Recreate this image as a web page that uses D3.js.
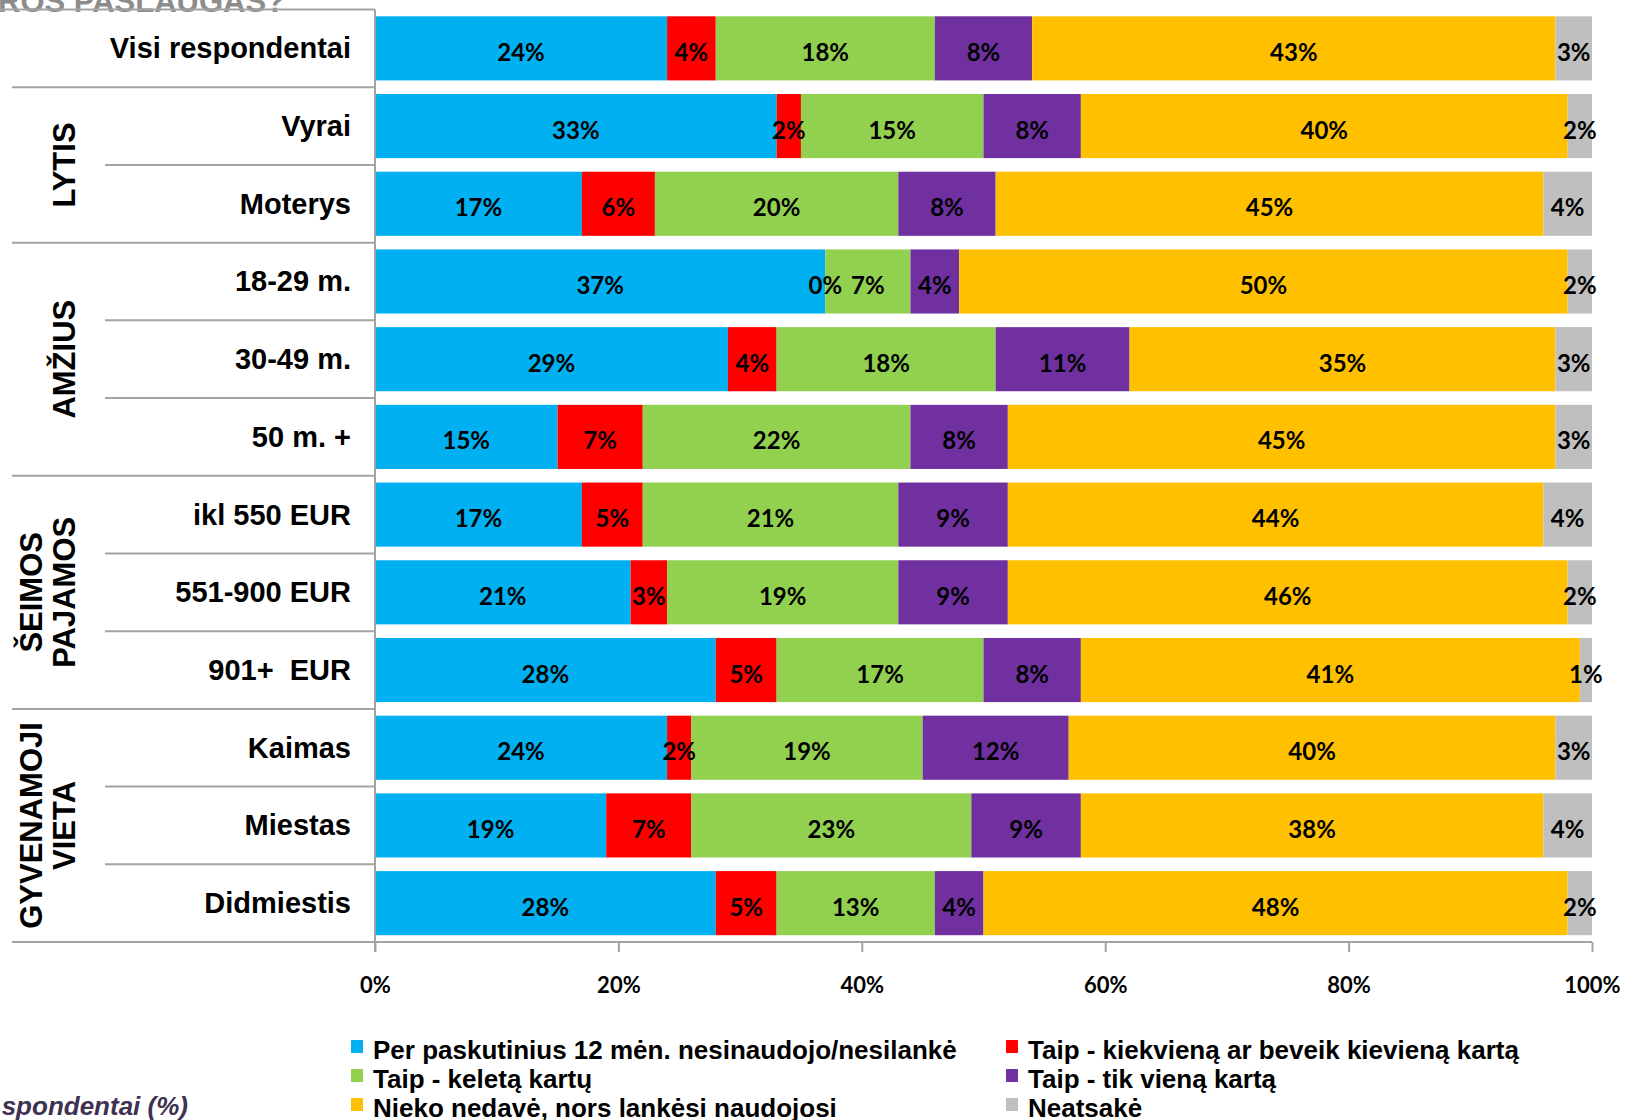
<!DOCTYPE html>
<html>
<head>
<meta charset="utf-8">
<script src="https://cdnjs.cloudflare.com/ajax/libs/d3/7.8.5/d3.min.js"></script>
<style>
  body { margin: 0; background: #ffffff; }
  svg text { font-family: "Liberation Sans", Arial, sans-serif; font-weight: bold; white-space: pre; }
</style>
</head>
<body>
<script>
//Data
const categories = ["Visi respondentai", "Vyrai", "Moterys", "18-29 m.", "30-49 m.", "50 m. +",
  "ikl 550 EUR", "551-900 EUR", "901+  EUR", "Kaimas", "Miestas", "Didmiestis"];

const seriesNames = [
  "Per paskutinius 12 mėn. nesinaudojo/nesilankė",
  "Taip - kiekvieną ar beveik kievieną kartą",
  "Taip - keletą kartų",
  "Taip - tik vieną kartą",
  "Nieko nedavė, nors lankėsi naudojosi",
  "Neatsakė"
];

const nesinaudojo = [24, 33, 17, 37, 29, 15, 17, 21, 28, 24, 19, 28];
const kiekvienaKarta = [4, 2, 6, 0, 4, 7, 5, 3, 5, 2, 7, 5];
const keletaKartu = [18, 15, 20, 7, 18, 22, 21, 19, 17, 19, 23, 13];
const vienaKarta = [8, 8, 8, 4, 11, 8, 9, 9, 8, 12, 9, 4];
const niekoNedave = [43, 40, 45, 50, 35, 45, 44, 46, 41, 40, 38, 48];
const neatsake = [3, 2, 4, 2, 3, 3, 4, 2, 1, 3, 4, 2];

const groupLabels = [["LYTIS"], ["AMŽIUS"], ["ŠEIMOS", "PAJAMOS"], ["GYVENAMOJI", "VIETA"]];
const groupMembers = [
  ["Vyrai", "Moterys"],
  ["18-29 m.", "30-49 m.", "50 m. +"],
  ["ikl 550 EUR", "551-900 EUR", "901+  EUR"],
  ["Kaimas", "Miestas", "Didmiestis"]
];

const tickValues = [0, 20, 40, 60, 80, 100];
const colors = ["#00B0F0", "#FF0000", "#92D050", "#7030A0", "#FFC000", "#BFBFBF"];

const drawChart = () => {
  const width = 1628,
    height = 1120,
    plotLeft = 375,
    plotRight = 1592,
    plotTop = 9.5,
    plotBottom = 942,
    lineColor = "#A3A3A3";

  const svg = d3.select("body")
    .append("svg")
    .attr("width", width)
    .attr("height", height);

  //Scales
  const x = d3.scaleLinear().domain([0, 100]).range([plotLeft, plotRight]);
  const y = d3.scaleBand()
    .domain(categories)
    .range([plotTop, plotBottom])
    .paddingInner(0.175)
    .paddingOuter(0.0875);
  const color = d3.scaleOrdinal().domain(seriesNames).range(colors);

  const values = [nesinaudojo, kiekvienaKarta, keletaKartu, vienaKarta, niekoNedave, neatsake];
  const table = categories.map((c, i) => {
    const row = { category: c };
    seriesNames.forEach((s, j) => row[s] = values[j][i]);
    return row;
  });
  const stacked = d3.stack().keys(seriesNames)(table);

  //Cut-off title at the top
  svg.append("text")
    .attr("x", -2)
    .attr("y", 11.5)
    .attr("font-size", 31)
    .attr("fill", "#8C8C8C")
    .text("ROS PASLAUGAS?");

  //Bars
  const layers = svg.append("g")
    .selectAll("g")
    .data(stacked)
    .enter()
    .append("g")
    .attr("fill", d => color(d.key));

  layers.selectAll("rect")
    .data(d => d)
    .enter()
    .append("rect")
    .attr("x", d => x(d[0]))
    .attr("y", d => y(d.data.category))
    .attr("width", d => x(d[1]) - x(d[0]))
    .attr("height", y.bandwidth());

  //Bar labels
  const labels = svg.append("g");
  stacked.forEach(layer => {
    labels.selectAll(null)
      .data(layer)
      .enter()
      .append("text")
      .attr("x", d => (x(d[0]) + x(d[1])) / 2)
      .attr("y", d => y(d.data.category) + y.bandwidth() / 2 + 12.5)
      .attr("text-anchor", "middle")
      .attr("font-size", 24)
      .style("font-family", "Lato, 'Open Sans', sans-serif")
      .attr("fill", "#000")
      .text(d => (d[1] - d[0]) + "%");
  });

  //Table lines on the left
  const step = y.step();
  const edge = i => plotTop + i * step;
  const groupStarts = groupMembers.map(g => categories.indexOf(g[0]));
  const grid = svg.append("g")
    .attr("stroke", lineColor)
    .attr("stroke-width", 2);
  d3.range(categories.length + 1).forEach(i => {
    let x0 = 105, x1 = plotLeft;
    if (i === 0) x0 = 0;
    else if (groupStarts.includes(i) || i === categories.length) x0 = 12;
    if (i === categories.length) x1 = plotRight;
    grid.append("line")
      .attr("x1", x0).attr("x2", x1)
      .attr("y1", edge(i)).attr("y2", edge(i));
  });
  grid.append("line")
    .attr("x1", plotLeft).attr("x2", plotLeft)
    .attr("y1", plotTop).attr("y2", plotBottom + 10);

  //X axis
  const xAxis = svg.append("g")
    .attr("transform", "translate(0," + plotBottom + ")")
    .call(d3.axisBottom(x).tickValues(tickValues).tickSize(10).tickSizeOuter(0).tickFormat(d => d + "%"));
  xAxis.select(".domain").remove();
  xAxis.selectAll(".tick line").attr("stroke", lineColor).attr("stroke-width", 2);
  xAxis.selectAll(".tick text")
    .attr("y", 51)
    .attr("dy", null)
    .attr("font-size", 22)
    .style("font-family", "Lato, 'Open Sans', sans-serif")
    .style("font-weight", "bold")
    .attr("fill", "#000");

  //Category labels
  svg.append("g")
    .selectAll("text")
    .data(categories)
    .enter()
    .append("text")
    .attr("x", 351)
    .attr("y", d => y(d) + y.bandwidth() / 2 + 10)
    .attr("text-anchor", "end")
    .attr("font-size", 29)
    .attr("fill", "#000")
    .text(d => d);

  //Group labels, rotated
  groupLabels.forEach((lines, gi) => {
    const first = categories.indexOf(groupMembers[gi][0]);
    const cy = (edge(first) + edge(first + groupMembers[gi].length)) / 2;
    lines.forEach((line, li) => {
      const bx = 75 - (lines.length - 1 - li) * 33;
      svg.append("text")
        .attr("transform", "translate(" + bx + "," + cy + ") rotate(-90)")
        .attr("text-anchor", "middle")
        .attr("font-size", 31)
        .attr("fill", "#000")
        .text(line);
    });
  });

  //Legend
  const legendCols = [351, 1006];
  const legend = svg.append("g")
    .selectAll("g")
    .data(seriesNames)
    .enter()
    .append("g")
    .attr("transform", (d, i) => "translate(" + legendCols[i % 2] + "," + (1059 + Math.floor(i / 2) * 29) + ")");
  legend.append("rect")
    .attr("x", 0)
    .attr("y", -19)
    .attr("width", 12)
    .attr("height", 13)
    .attr("fill", d => color(d));
  legend.append("text")
    .attr("x", 22)
    .attr("y", 0)
    .attr("font-size", 26)
    .attr("fill", "#000")
    .text(d => d);

  //Footnote, cut at the left edge
  svg.append("text")
    .attr("x", 188)
    .attr("y", 1115)
    .attr("text-anchor", "end")
    .attr("font-size", 26)
    .attr("font-style", "italic")
    .attr("fill", "#3F3151")
    .text("spondentai (%)");
};

drawChart();
</script>
</body>
</html>
